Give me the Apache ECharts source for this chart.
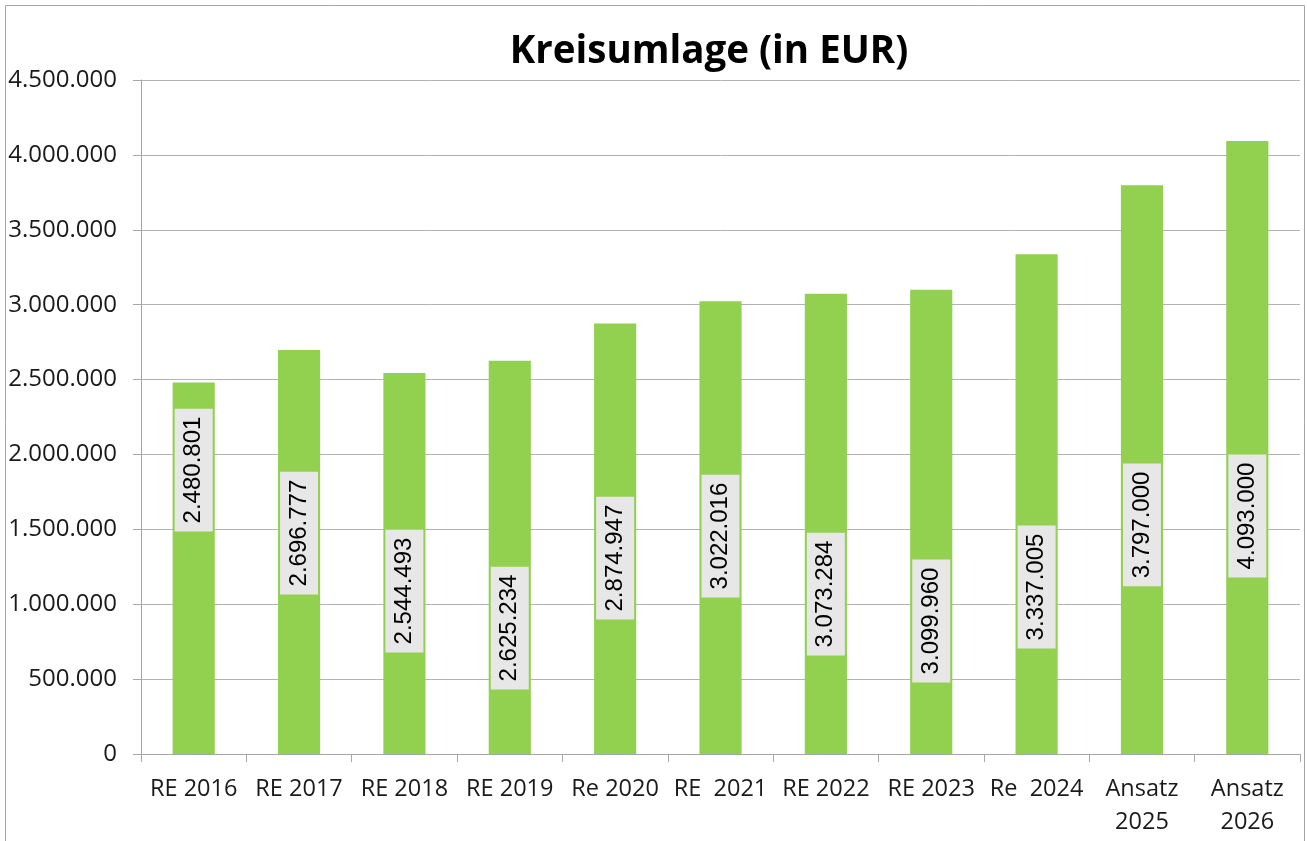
<!DOCTYPE html>
<html>
<head>
<meta charset="utf-8">
<title>Kreisumlage (in EUR)</title>
<script src="https://cdn.jsdelivr.net/npm/echarts@6/dist/echarts.min.js"></script>
<style>
  html, body { margin: 0; padding: 0; background: #ffffff; }
  #chart { width: 1307px; height: 841px; }
</style>
</head>
<body>
<div id="chart"></div>
<script>
// Kreisumlage per year (EUR)
const categories = ['RE 2016', 'RE 2017', 'RE 2018', 'RE 2019', 'Re 2020', 'RE  2021',
  'RE 2022', 'RE 2023', 'Re  2024', 'Ansatz\n2025', 'Ansatz\n2026'];
const values = [2480801, 2696777, 2544493, 2625234, 2874947, 3022016,
  3073284, 3099960, 3337005, 3797000, 4093000];
// height (in EUR on the value axis) at which each value label is centred
const labelAt = [1896000, 1475000, 1088000, 841000, 1308000, 1455000,
  1068000, 888000, 1115000, 1529000, 1589000];
const yTicks = { min: 0, max: 4500000, interval: 500000 };

const fmt = v => String(v).replace(/\B(?=(\d{3})+(?!\d))/g, '.');

const chart = echarts.init(document.getElementById('chart'), null, { renderer: 'canvas' });
chart.setOption({
  animation: false,
  backgroundColor: '#ffffff',
  title: {
    text: 'Kreisumlage (in EUR)',
    left: 704,
    top: 28,
    textAlign: 'center',
    textStyle: { fontFamily: 'Open Sans', fontWeight: 'bold', fontSize: 38.5, color: '#000000' }
  },
  graphic: [{
    type: 'rect',
    shape: { x: 5.5, y: 5.5, width: 1299, height: 850 },
    style: { fill: 'none', stroke: '#a6a6a6', lineWidth: 1 },
    silent: true
  }],
  grid: { left: 141, right: 7, top: 80, bottom: 87 },
  xAxis: {
    type: 'category',
    data: categories,
    axisLine: { lineStyle: { color: '#a6a6a6', width: 1 } },
    axisTick: { show: true, length: 8, alignWithLabel: false, lineStyle: { color: '#a6a6a6' } },
    axisLabel: {
      interval: 0, margin: 19, color: '#1a1a1a',
      fontFamily: 'Open Sans', fontSize: 23.5, lineHeight: 33
    }
  },
  yAxis: {
    type: 'value',
    min: yTicks.min, max: yTicks.max, interval: yTicks.interval,
    axisLine: { show: true, lineStyle: { color: '#a6a6a6', width: 1 } },
    axisTick: { show: true, length: 8, lineStyle: { color: '#a6a6a6' } },
    splitLine: { lineStyle: { color: '#b3b3b3', width: 1 } },
    axisLabel: {
      margin: 24, color: '#1a1a1a',
      fontFamily: 'Open Sans', fontSize: 24,
      formatter: v => fmt(v)
    }
  },
  series: [
    {
      type: 'bar',
      data: values,
      barWidth: '40%',
      itemStyle: { color: '#92d050' },
      z: 2
    },
    {
      // value labels, each drawn at its own height on the bar
      type: 'scatter',
      data: labelAt.map((y, i) => [i, y]),
      symbolSize: 1,
      itemStyle: { color: 'rgba(0,0,0,0)', opacity: 1 },
      z: 5,
      silent: true,
      label: {
        show: true,
        position: 'inside',
        rotate: 90,
        opacity: 1,
        formatter: p => fmt(values[p.dataIndex]),
        fontFamily: 'Liberation Sans',
        fontSize: 24,
        lineHeight: 26,
        color: '#000000',
        backgroundColor: '#e7e7e7',
        padding: [6, 8, 6, 8]
      }
    }
  ]
});
</script>
</body>
</html>
